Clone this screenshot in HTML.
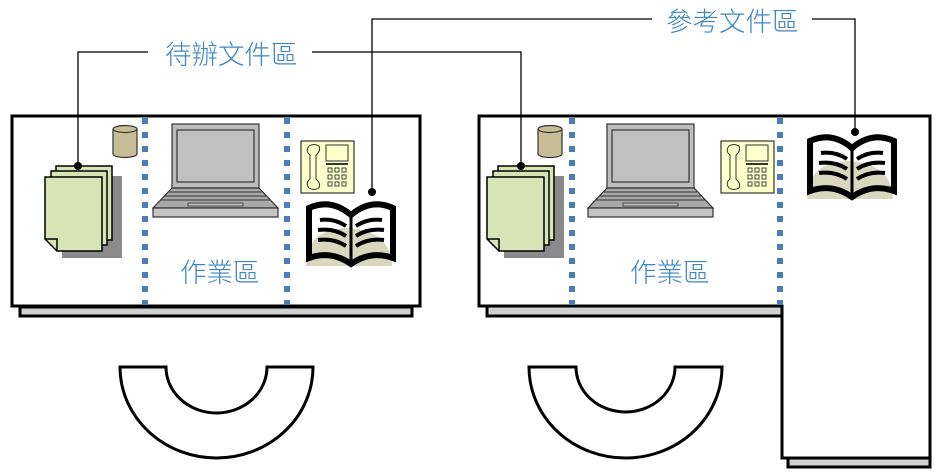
<!DOCTYPE html>
<html><head><meta charset="utf-8"><style>
html,body{margin:0;padding:0;background:#fff;}
svg{display:block}
text{font-family:"Liberation Sans","Noto Sans CJK TC",sans-serif;fill:#3d86c6;font-size:26.5px;font-weight:300}
</style></head><body>
<svg width="940" height="474" viewBox="0 0 940 474" xmlns="http://www.w3.org/2000/svg">
<defs>
<g id="papers">
 <rect x="17" y="10" width="60" height="82" fill="#8a8a8a"/>
 <rect x="11" y="0" width="56" height="74" fill="#d7e4b5" stroke="#000" stroke-width="1.5"/>
 <rect x="6" y="5" width="56" height="74" fill="#d7e4b5" stroke="#000" stroke-width="1.5"/>
 <path d="M0,11 H57 V85 H12 L0,73 Z" fill="#d7e4b5" stroke="#000" stroke-width="1.5"/>
 <path d="M0,73 H12 V85" fill="none" stroke="#000" stroke-width="1.5"/>
</g>
<g id="cyl">
 <path d="M0,4 V29 A12,3.5 0 0 0 24,29 V4" fill="#c6bd96" stroke="#333" stroke-width="1.2"/>
 <ellipse cx="12" cy="4" rx="12" ry="3.5" fill="#c6bd96" stroke="#333" stroke-width="1.2"/>
</g>
<g id="laptop">
 <rect x="19" y="0" width="87" height="64" fill="#bdbdbd" stroke="#333" stroke-width="1.2"/>
 <rect x="24" y="6" width="77" height="52" fill="#c0c0c0" stroke="#333" stroke-width="1.2"/>
 <path d="M19,64 H106 L125,84 H0 Z" fill="#a9a9a9" stroke="#333" stroke-width="1.2"/>
 <path d="M16,68 H109 M12,72 H113 M8,76 H117" stroke="#333" stroke-width="1"/>
 <rect x="35" y="79" width="55" height="3" fill="#bbb" stroke="#333" stroke-width="0.8"/>
 <rect x="0" y="84" width="125" height="9" fill="#c4c4c4" stroke="#333" stroke-width="1.2"/>
</g>
<g id="phone">
 <rect x="0" y="0" width="53" height="52" fill="#ffffcc" stroke="#333" stroke-width="1.2"/>
 <path d="M8,5 Q13,2 18,5 Q20,10 15,14 V38 Q20,42 18,47 Q13,50 8,47 Q4,42 9,38 V14 Q4,10 8,5 Z" fill="#ffffcc" stroke="#333" stroke-width="1"/>
 <rect x="25" y="4" width="22" height="16" fill="#ffffcc" stroke="#333" stroke-width="1"/>
 <rect x="25" y="22" width="22" height="2" fill="#333"/>
 <g fill="none" stroke="#333" stroke-width="0.9">
  <rect x="27" y="27" width="4" height="4"/><rect x="34" y="27" width="4" height="4"/><rect x="41" y="27" width="4" height="4"/>
  <rect x="27" y="34" width="4" height="4"/><rect x="34" y="34" width="4" height="4"/><rect x="41" y="34" width="4" height="4"/>
  <rect x="27" y="41" width="4" height="4"/><rect x="34" y="41" width="4" height="4"/><rect x="41" y="41" width="4" height="4"/>
 </g>
</g>
<g id="book">
 <path d="M0,66 Q0,30 40,28 Q85,30 86,66 Z" fill="#d9d7bd"/>
 <path d="M3,8 Q25,-2 45,15 Q65,-2 87,8 V58 Q65,50 45,64 Q25,50 3,58 Z" fill="none" stroke="#000" stroke-width="6" stroke-linejoin="miter"/>
 <path d="M45,15 V62" stroke="#000" stroke-width="3"/>
 <path d="M14,20 Q28,18 40,26 M12,30 Q28,28 40,36 M12,40 Q28,38 40,46 M76,20 Q62,18 50,26 M78,30 Q62,28 50,36 M78,40 Q62,38 50,46" fill="none" stroke="#000" stroke-width="4"/>
</g>
</defs>

<!-- left desk -->
<rect x="20" y="307" width="392" height="9" fill="#d0d0d0" stroke="#000" stroke-width="3"/>
<rect x="12" y="116" width="408" height="190" fill="#fff" stroke="#000" stroke-width="3"/>
<line x1="145" y1="118" x2="145" y2="305" stroke="#4a7ebb" stroke-width="6" stroke-dasharray="6,8"/>
<line x1="287" y1="118" x2="287" y2="305" stroke="#4a7ebb" stroke-width="6" stroke-dasharray="6,8"/>
<use href="#papers" x="45" y="166"/>
<use href="#cyl" x="113" y="125"/>
<use href="#laptop" x="153" y="124"/>
<use href="#phone" x="301" y="141"/>
<use href="#book" x="306" y="200"/>
<text x="180" y="282">作業區</text>

<!-- right desk -->
<rect x="487" y="306" width="295" height="10" fill="#d0d0d0" stroke="#000" stroke-width="3"/>
<rect x="788" y="458" width="142" height="9" fill="#d0d0d0" stroke="#000" stroke-width="3"/>
<path d="M479,116 H930 V458 H782 V306 H479 Z" fill="#fff" stroke="#000" stroke-width="3"/>
<line x1="572" y1="118" x2="572" y2="305" stroke="#4a7ebb" stroke-width="6" stroke-dasharray="6,8"/>
<line x1="780" y1="118" x2="780" y2="305" stroke="#4a7ebb" stroke-width="6" stroke-dasharray="6,8"/>
<use href="#papers" x="487" y="166"/>
<use href="#cyl" x="538" y="125"/>
<use href="#laptop" x="588" y="124"/>
<use href="#phone" x="721" y="141"/>
<use href="#book" x="807" y="133"/>
<text x="630" y="282">作業區</text>

<!-- chairs -->
<path d="M120,367 H166 A50.5,46 0 0 0 267,367 H313 A96.5,91 0 0 1 120,367 Z" fill="#fff" stroke="#000" stroke-width="3"/>
<path d="M529,367 H576 A49.5,45 0 0 0 675,367 H722 A96.5,91 0 0 1 529,367 Z" fill="#fff" stroke="#000" stroke-width="3"/>

<!-- connectors -->
<g fill="none" stroke="#000" stroke-width="1.3">
 <path d="M78,166 V52 H148"/>
 <path d="M312,52 H521 V166"/>
 <path d="M372,192 V19 H652"/>
 <path d="M812,19 H855 V132"/>
</g>
<g fill="#000">
 <circle cx="78" cy="166" r="4"/><circle cx="521" cy="166" r="4"/>
 <circle cx="372" cy="192" r="4"/><circle cx="855" cy="132" r="4"/>
</g>
<text x="165" y="64">待辦文件區</text>
<text x="666" y="31">參考文件區</text>
</svg>
</body></html>
